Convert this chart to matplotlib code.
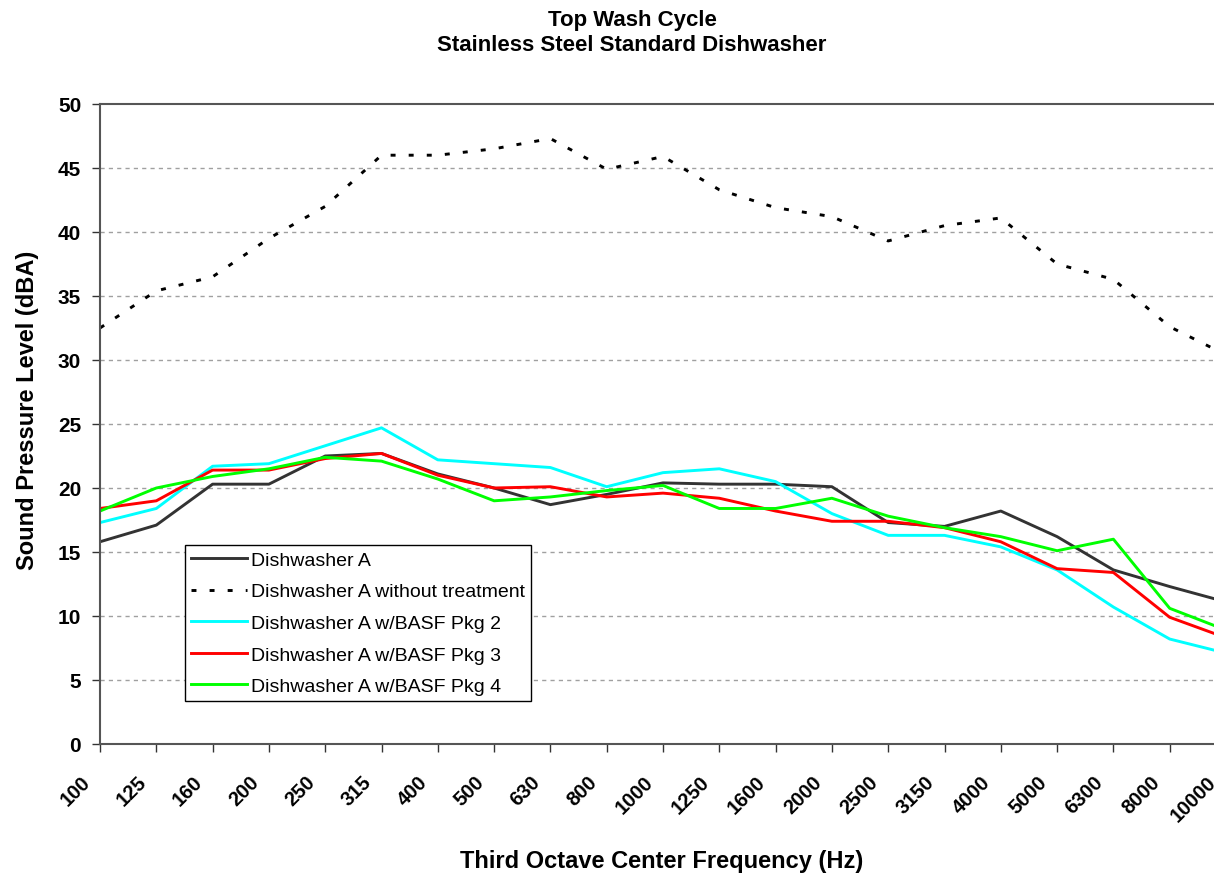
import matplotlib
matplotlib.use("Agg")
import matplotlib.pyplot as plt
import matplotlib.transforms as mtransforms

plt.rcParams['font.family'] = ['Liberation Sans', 'DejaVu Sans']

freqs = ['100', '125', '160', '200', '250', '315', '400', '500', '630', '800', '1000',
         '1250', '1600', '2000', '2500', '3150', '4000', '5000', '6300', '8000', '10000']

dw_a = [15.8, 17.1, 20.3, 20.3, 22.5, 22.7, 21.1, 20.0, 18.7, 19.5, 20.4,
        20.3, 20.3, 20.1, 17.3, 17.0, 18.2, 16.2, 13.6, 12.3, 11.1]
dw_a_untreated = [32.5, 35.4, 36.5, 39.5, 42.0, 46.0, 46.0, 46.5, 47.3, 44.9, 45.9,
                  43.3, 41.9, 41.2, 39.3, 40.5, 41.1, 37.5, 36.3, 32.6, 30.4]
pkg2 = [17.3, 18.4, 21.7, 21.9, 23.3, 24.7, 22.2, 21.9, 21.6, 20.1, 21.2,
        21.5, 20.5, 18.0, 16.3, 16.3, 15.4, 13.6, 10.7, 8.2, 7.1]
pkg3 = [18.4, 19.0, 21.4, 21.4, 22.3, 22.7, 21.0, 20.0, 20.1, 19.3, 19.6,
        19.2, 18.2, 17.4, 17.4, 16.9, 15.8, 13.7, 13.4, 9.9, 8.3]
pkg4 = [18.2, 20.0, 20.9, 21.5, 22.4, 22.1, 20.7, 19.0, 19.3, 19.8, 20.2,
        18.4, 18.4, 19.2, 17.8, 16.9, 16.2, 15.1, 16.0, 10.6, 8.9]

fig = plt.figure(figsize=(12.14, 8.78), dpi=100)
# plot area runs a little past the right edge of the picture, as in the original crop
ax = fig.add_axes([100 / 1214, 1 - 745 / 878, 1126 / 1214, 640 / 878])

x = list(range(len(freqs)))
ax.plot(x, dw_a, color='#333333', lw=2.1, label='Dishwasher A')
ax.plot(x, dw_a_untreated, color='black', lw=2.1, linestyle=(0, (1.7, 4.5)),
        label='Dishwasher A without treatment')
ax.plot(x, pkg2, color='#00ffff', lw=2.1, label='Dishwasher A w/BASF Pkg 2')
ax.plot(x, pkg3, color='#ff0000', lw=2.1, label='Dishwasher A w/BASF Pkg 3')
ax.plot(x, pkg4, color='#00ff00', lw=2.1, label='Dishwasher A w/BASF Pkg 4')

ax.set_xlim(0, len(freqs) - 1)
ax.set_ylim(0, 50)
ax.set_yticks(range(0, 51, 5))
ax.set_yticklabels([str(v) for v in range(0, 51, 5)], fontsize=15, fontweight='bold')
ax.set_xticks(x)
ax.set_xticklabels(freqs, fontsize=14.5, fontweight='bold', rotation=45,
                   ha='right', va='center', rotation_mode='anchor')

for v in range(5, 50, 5):
    ax.axhline(v, color='#a0a0a0', lw=1.0, linestyle=(0, (3, 3)), zorder=0)

ax.tick_params(axis='both', direction='out', length=5.5, width=1, color='#333333')
ax.tick_params(axis='y', pad=8)
for side in ['left', 'bottom', 'top']:
    ax.spines[side].set_color('#555555')
    ax.spines[side].set_linewidth(1.5)
ax.spines['right'].set_visible(False)

# shift the slanted labels down/left (after tick_params, which resets transforms)
offset = mtransforms.ScaledTranslation(-0.13, -0.22, fig.dpi_scale_trans)
for lbl in ax.get_xticklabels():
    lbl.set_transform(lbl.get_transform() + offset)

leg = ax.legend(loc='lower left', bbox_to_anchor=(0.0755, 0.067), fontsize=14,
                frameon=True, fancybox=False, edgecolor='black', framealpha=1,
                handlelength=2.9, handletextpad=0.2, borderpad=0.3,
                labelspacing=0.72, borderaxespad=0)
leg.get_frame().set_linewidth(1.0)

fig.text(632 / 1214, 1 - 33 / 878, 'Top Wash Cycle\nStainless Steel Standard Dishwasher',
         ha='center', va='center', fontsize=16, fontweight='bold', linespacing=1.3)
fig.text(28 / 1214, 1 - 410 / 878, 'Sound Pressure Level (dBA)', rotation=90,
         ha='center', va='center', fontsize=17, fontweight='bold')
fig.text(662 / 1214, 1 - 862 / 878, 'Third Octave Center Frequency (Hz)',
         ha='center', va='center', fontsize=17, fontweight='bold')

fig.savefig('out.png', dpi=100)
